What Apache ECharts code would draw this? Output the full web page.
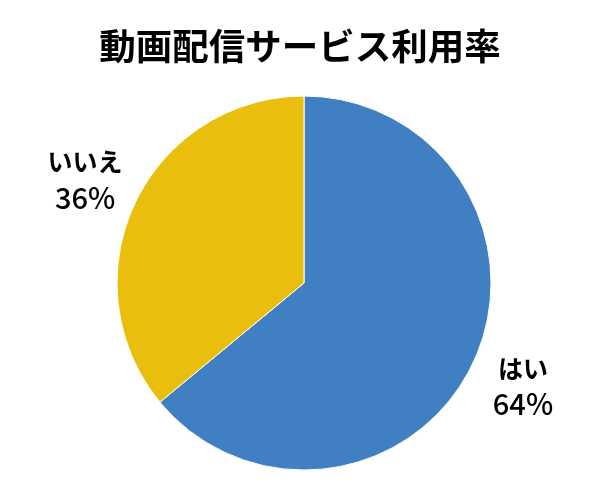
<!DOCTYPE html>
<html>
<head>
<meta charset="utf-8">
<script src="https://cdn.jsdelivr.net/npm/echarts@6/dist/echarts.min.js"></script>
<style>
  html, body { margin: 0; padding: 0; background: #fff; }
  #chart { width: 600px; height: 500px; }
</style>
</head>
<body>
<div id="chart"></div>
<script>
// 動画配信サービス利用率 (円グラフ)
const categories = ['はい', 'いいえ'];
const shares = [64, 36];
const sliceColors = ['#3f7fc2', '#eabe0d'];

const FONT = '"Noto Sans CJK JP", "Noto Sans", sans-serif';
const center = [304, 283];
const radius = 187;
const labelGap = 55;

const total = shares.reduce((a, b) => a + b, 0);
// mid-angle of each slice, clockwise from 12 o'clock
const midAngles = [];
let acc = 0;
shares.forEach(v => {
  midAngles.push((acc + v / 2) / total * 2 * Math.PI);
  acc += v;
});

const chart = echarts.init(document.getElementById('chart'));
chart.setOption({
  animation: false,
  title: {
    text: '動画配信サービス利用率',
    left: 'center',
    top: 23,
    textStyle: { fontFamily: FONT, fontSize: 36.5, fontWeight: 'bold', color: '#000' }
  },
  series: [{
    type: 'pie',
    center: center,
    radius: radius,
    startAngle: 90,
    clockwise: true,
    itemStyle: { borderColor: '#fff', borderWidth: 1 },
    data: categories.map((name, i) => ({
      name: name,
      value: shares[i],
      itemStyle: { color: sliceColors[i] }
    })),
    label: {
      position: 'outside',
      formatter: p => '{n|' + p.name + '}\n{v|' + p.value + '%}',
      rich: {
        n: { fontFamily: FONT, fontSize: 25, fontWeight: 'bold', color: '#000', lineHeight: 36, align: 'center' },
        v: { fontFamily: FONT, fontSize: 29, fontWeight: 500, color: '#000', lineHeight: 36, align: 'center' }
      }
    },
    labelLine: { show: false },
    labelLayout: p => {
      const a = midAngles[p.dataIndex];
      const r = radius + labelGap;
      return {
        x: center[0] + r * Math.sin(a),
        y: center[1] - r * Math.cos(a),
        align: 'center',
        verticalAlign: 'middle'
      };
    }
  }]
});
</script>
</body>
</html>
